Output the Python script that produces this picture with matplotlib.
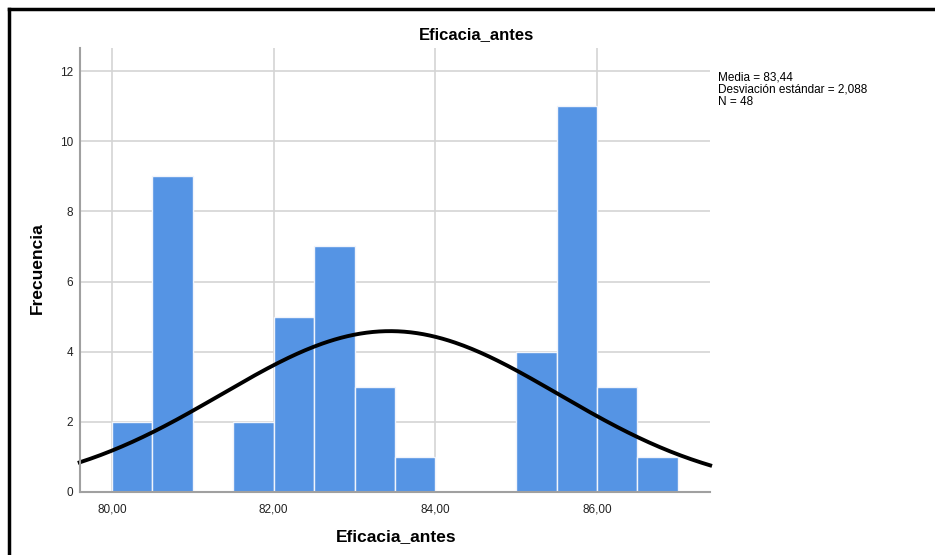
import numpy as np
import matplotlib
matplotlib.use('Agg')
import matplotlib.pyplot as plt
from matplotlib.lines import Line2D

plt.rcParams['font.family'] = ['Liberation Sans', 'DejaVu Sans']

# histogram data (bin edges and counts)
bin_edges = [80.0, 80.5, 81.0, 81.5, 82.0, 82.5, 83.0, 83.5, 84.0, 84.5, 85.0, 85.5, 86.0, 86.5, 87.0]
counts = [2, 9, 0, 2, 5, 7, 3, 1, 0, 0, 4, 11, 3, 1]
media = 83.44
desv = 2.088
n = 48

fig = plt.figure(figsize=(9.35, 5.55), dpi=100)
ax = fig.add_axes([80/935, 1-492/555, 630/935, 444/555])

ax.set_axisbelow(True)
ax.grid(True, color='#d4d4d4', linewidth=1.2)

ax.bar(bin_edges[:-1], counts, width=0.5, align='edge',
       color='#5594e4', edgecolor='#f0f4fb', linewidth=1.0)

# normal curve scaled to counts
w = bin_edges[1] - bin_edges[0]
x = np.linspace(79.6, 87.4, 300)
y = n * w * np.exp(-0.5*((x-media)/desv)**2) / (desv*np.sqrt(2*np.pi))
ax.plot(x, y, color='black', linewidth=2.8, clip_on=False)

ax.set_xlim(79.604, 87.398)
ax.set_ylim(0, 12.656)
ax.set_xticks([80, 82, 84, 86])
ax.set_xticklabels(['80,00', '82,00', '84,00', '86,00'])
ax.set_yticks(range(0, 13, 2))
ax.tick_params(length=0, labelsize=8.5, colors='#222222')
ax.tick_params(axis='x', pad=8)
ax.tick_params(axis='y', pad=5)

for s in ['top', 'right']:
    ax.spines[s].set_visible(False)
for s in ['left', 'bottom']:
    ax.spines[s].set_color('#a0a0a0')
    ax.spines[s].set_linewidth(1.5)

fig.text(477/935, 1-35/555, 'Eficacia_antes', ha='center', va='center',
         fontsize=12, fontweight='bold')
fig.text(396/935, 1-537/555, 'Eficacia_antes', ha='center', va='center',
         fontsize=12.5, fontweight='bold')
fig.text(37/935, 1-268/555, 'Frecuencia', ha='center', va='center',
         fontsize=12.5, fontweight='bold', rotation=90)

fig.text(718/935, 1-71/555,
         'Media = 83,44\nDesviación estándar = 2,088\nN = 48',
         ha='left', va='top', fontsize=8.5, linespacing=1.05)

# frame lines (top and left)
fig.add_artist(Line2D([9/935, 1], [1-9/555, 1-9/555], color='black', linewidth=2.5))
fig.add_artist(Line2D([9/935, 9/935], [0, 1-9/555], color='black', linewidth=2.5))

fig.savefig('out.png', dpi=100)
